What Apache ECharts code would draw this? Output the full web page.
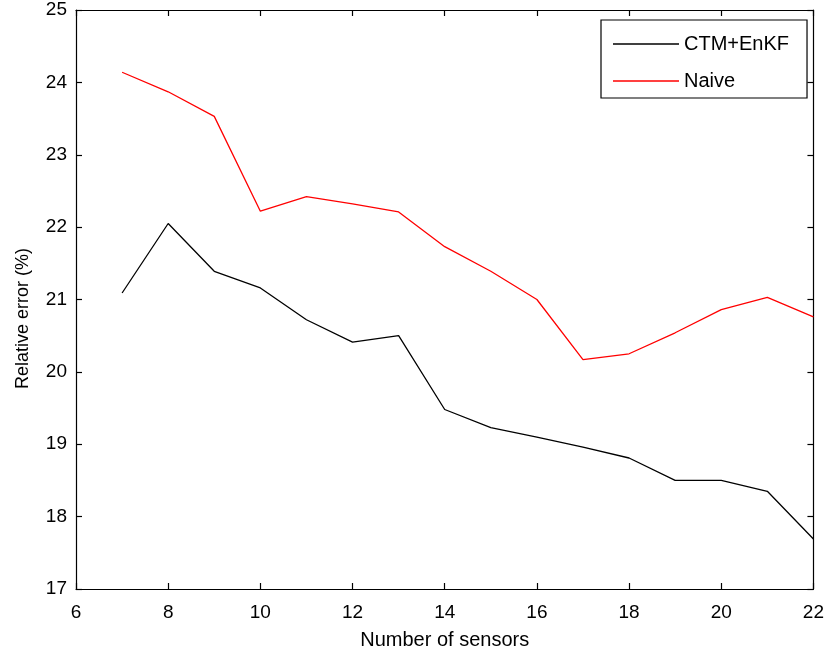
<!DOCTYPE html>
<html>
<head>
<meta charset="utf-8">
<script src="https://cdn.jsdelivr.net/npm/echarts@6/dist/echarts.min.js"></script>
<style>
  html, body { margin: 0; padding: 0; background: #fff; }
  #main { width: 827px; height: 655px; }
</style>
</head>
<body>
<div id="main"></div>
<script>
// number of sensors
var sensors = [7, 8, 9, 10, 11, 12, 13, 14, 15, 16, 17, 18, 19, 20, 21, 22];
// relative error (%)
var ctmEnkf = [21.09, 22.05, 21.39, 21.16, 20.72, 20.41, 20.50, 19.48, 19.23, 19.10, 18.96, 18.81, 18.50, 18.50, 18.35, 17.69];
var naive = [24.14, 23.87, 23.53, 22.22, 22.42, 22.32, 22.21, 21.73, 21.39, 21.00, 20.17, 20.25, 20.54, 20.86, 21.03, 20.76];

function pairs(xs, ys) {
    return xs.map(function (x, i) { return [x, ys[i]]; });
}

var font = 'Liberation Sans, Arial, Helvetica, sans-serif';
var myChart = echarts.init(document.getElementById('main'));

var axisCommon = {
    axisLine: { show: true, onZero: false, lineStyle: { color: '#000', width: 1.2 } },
    axisTick: { show: true, inside: true, length: 6, lineStyle: { color: '#000', width: 1.2 } },
    splitLine: { show: false }
};

var option = {
    animation: false,
    backgroundColor: '#fff',
    grid: { left: 76, right: 13, top: 10, bottom: 65 },
    legend: {
        left: 601,
        top: 20,
        orient: 'vertical',
        backgroundColor: '#fff',
        borderColor: '#000',
        borderWidth: 1.2,
        borderRadius: 0,
        padding: [13, 18, 6, 12],
        itemGap: 15,
        itemWidth: 66,
        itemHeight: 1.5,
        itemTextGap: 7,
        icon: 'rect',
        textStyle: { fontFamily: font, fontSize: 20, color: '#000', lineHeight: 22 },
        data: ['CTM+EnKF', 'Naive']
    },
    xAxis: [
        Object.assign({}, axisCommon, {
            type: 'value', min: 6, max: 22, interval: 2, position: 'bottom',
            name: 'Number of sensors', nameLocation: 'middle', nameGap: 41,
            nameTextStyle: { fontFamily: font, fontSize: 20, color: '#000' },
            axisLabel: { fontFamily: font, fontSize: 19, color: '#000', margin: 14 }
        }),
        Object.assign({}, axisCommon, {
            type: 'value', min: 6, max: 22, interval: 2, position: 'top',
            axisLabel: { show: false }
        })
    ],
    yAxis: [
        Object.assign({}, axisCommon, {
            type: 'value', min: 17, max: 25, interval: 1, position: 'left',
            name: 'Relative error (%)', nameLocation: 'middle', nameGap: 44,
            nameTextStyle: { fontFamily: font, fontSize: 18, color: '#000', padding: [0, 38, 0, 0] },
            axisLabel: { fontFamily: font, fontSize: 19, color: '#000', margin: 9 }
        }),
        Object.assign({}, axisCommon, {
            type: 'value', min: 17, max: 25, interval: 1, position: 'right',
            axisLabel: { show: false }
        })
    ],
    series: [
        {
            name: 'CTM+EnKF',
            type: 'line',
            data: pairs(sensors, ctmEnkf),
            showSymbol: false,
            color: '#000',
            lineStyle: { color: '#000', width: 1.3 }
        },
        {
            name: 'Naive',
            type: 'line',
            data: pairs(sensors, naive),
            showSymbol: false,
            color: '#ff0000',
            lineStyle: { color: '#ff0000', width: 1.3 }
        }
    ]
};
myChart.setOption(option);
</script>
</body>
</html>
